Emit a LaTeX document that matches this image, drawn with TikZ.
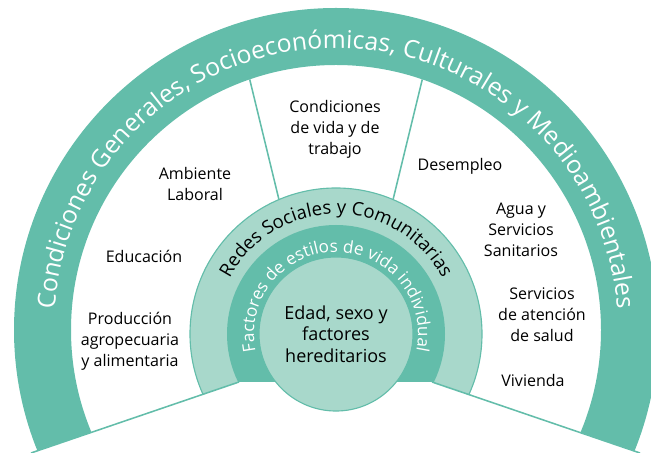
\documentclass[tikz,border=0pt]{standalone}
\usepackage{fontspec}
\setmainfont{Open Sans}
\usetikzlibrary{calc}
\usetikzlibrary{decorations.text}
\definecolor{tealdark}{HTML}{63BDAA}
\definecolor{teallight}{HTML}{A8D8CB}

\begin{document}
\begin{tikzpicture}[x=0.025cm, y=0.025cm,
    factor/.style={align=center, font=\fontsize{11.4}{15}\selectfont},
    divider/.style={draw=tealdark, line width=1.1pt}]
    \useasboundingbox (0,0) rectangle (651,453);
    % centres and corners of the lower edge
    \coordinate (outerc) at (336,123);
    \coordinate (innerc) at (336,119);
    \coordinate (lowleft) at (31,0);
    \coordinate (midleft) at (239,71);
    \coordinate (midright) at (432,71);
    \coordinate (lowright) at (640,0);

    \begin{scope}
        \clip (-20,-17) -- (midleft) -- (midright) -- (691,-17) -- (691,470) -- (-20,470) -- cycle;
        % outer ring
        \fill[tealdark, even odd rule] (outerc) circle (322) (outerc) circle (265);
        \path[decorate, decoration={text along path, text align=center,
            text={|\fontsize{17.6}{19}\selectfont\color{white}|Condiciones Generales, Socioeconómicas, Culturales y Medioambientales}}]
            ($(outerc)+(195:282)$) arc[start angle=195, end angle=-15, radius=282];
        % social networks ring
        \fill[teallight] (innerc) circle (146);
        \draw[tealdark, line width=0.8pt] (innerc) circle (146);
        \path[decorate, decoration={text along path, text align=center,
            text={|\fontsize{13.2}{15}\selectfont\color{black}|Redes Sociales y Comunitarias}}]
            ($(innerc)+(200:120)$) arc[start angle=200, end angle=-20, radius=120];
        % lifestyle ring
        \fill[tealdark] (innerc) circle (109);
        \path[decorate, decoration={text along path, text align=center,
            text={|\fontsize{12.2}{14}\selectfont\color{white}|Factores de estilos de vida individual}}]
            ($(innerc)+(210:82)$) arc[start angle=210, end angle=-30, radius=82];
    \end{scope}

    % dividing lines
    \coordinate (topl) at ($(outerc)+(109:265)$);
    \coordinate (topr) at ($(outerc)+(71:265)$);
    \coordinate (footl) at ($(innerc)+(113:146)$);
    \coordinate (footr) at ($(innerc)+(67:146)$);
    \draw[divider] (lowleft) -- (midleft);
    \draw[divider] (midright) -- (lowright);
    \draw[divider] (footl) -- (topl);
    \draw[divider] (footr) -- (topr);

    % core
    \node[circle, fill=teallight, draw=tealdark, line width=0.8pt, minimum size=3.85cm, inner sep=0pt,
        align=center, font=\fontsize{12.8}{15.4}\selectfont] (core) at (innerc) {Edad, sexo y\\factores\\hereditarios};

    % determinants
    \node[factor] (living) at (335,324) {Condiciones\\de vida y de\\trabajo};
    \node[factor] (work) at (195,269) {Ambiente\\Laboral};
    \node[factor] (school) at (144,197) {Educación};
    \node[factor] (food) at (130,112) {Producción\\agropecuaria\\y alimentaria};
    \node[factor] (jobless) at (460,287) {Desempleo};
    \node[factor] (water) at (521,223) {Agua y\\Servicios\\Sanitarios};
    \node[factor] (care) at (542,138) {Servicios\\de atención\\de salud};
    \node[factor] (housing) at (533,73) {Vivienda};
\end{tikzpicture}
\end{document}
